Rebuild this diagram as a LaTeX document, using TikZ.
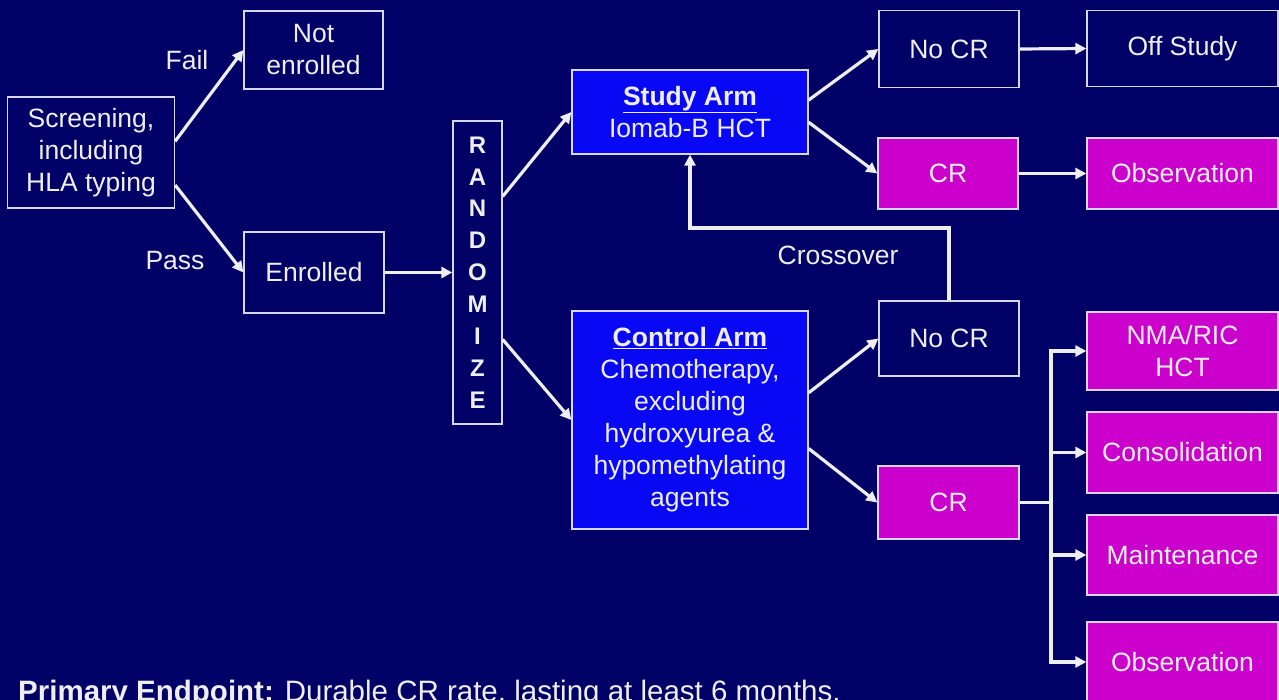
\documentclass[tikz,border=0pt]{standalone}
\usepackage{fontspec}
\setmainfont{Liberation Sans}
\usetikzlibrary{arrows.meta,calc}
\definecolor{bg}{RGB}{0,0,102}
\definecolor{armblue}{RGB}{8,8,245}
\definecolor{mag}{RGB}{204,0,204}
\definecolor{bd}{RGB}{215,215,232}
\definecolor{tx}{RGB}{238,238,238}
\newcommand\myfs{\fontsize{26.5}{32}\selectfont}
\begin{document}
\begin{tikzpicture}[x=1pt,y=-1pt,
  box/.style={draw=bd, line width=1.3pt, text=tx, align=center, inner sep=0pt, font=\myfs},
  dark/.style={box, fill=bg},
  arm/.style={box, fill=armblue},
  mbox/.style={box, fill=mag},
  lbl/.style={text=tx, font=\myfs, inner sep=0pt},
  arr/.style={draw=tx, line width=3.2pt, -{Triangle[length=11pt,width=11pt]}},
  ln/.style={draw=tx, line width=3.2pt}]
\fill[bg] (0,0) rectangle (1279,700);
\useasboundingbox (0,0) rectangle (1279,700);
\clip (0,0) rectangle (1279,700);

% boxes
\node[dark, minimum width=167pt, minimum height=111pt] (scr) at (91,152.5) {Screening,\\including\\HLA typing};
\node[dark, minimum width=139pt, minimum height=78pt] (ne) at (313.5,50) {Not\\enrolled};
\node[dark, minimum width=140pt, minimum height=81pt] (en) at (314,272.5) {Enrolled};
\node[dark, minimum width=49pt, minimum height=303pt, font=\fontsize{24}{31.9}\selectfont\bfseries] (rnd) at (477.5,272.5) {R\\A\\N\\D\\O\\M\\I\\Z\\E};
\node[arm, minimum width=236pt, minimum height=84pt] (st) at (690,112) {\textbf{\underline{Study Arm}}\\Iomab-B HCT};
\node[arm, minimum width=236pt, minimum height=218pt] (ctl) at (690,420) {\textbf{\underline{Control Arm}}\\Chemotherapy,\\excluding\\hydroxyurea \&\\hypomethylating\\agents};
\node[dark, minimum width=140pt, minimum height=77pt] (nc1) at (949,49) {No CR};
\node[dark, minimum width=191pt, minimum height=76pt] (off) at (1182.5,48.5) {Off Study};
\node[mbox, minimum width=140pt, minimum height=71pt] (cr1) at (948,173.5) {CR};
\node[mbox, minimum width=191pt, minimum height=71pt] (obs1) at (1182.5,173.5) {Observation};
\node[dark, minimum width=140pt, minimum height=75pt] (nc2) at (949,338.5) {No CR};
\node[mbox, minimum width=141pt, minimum height=73pt] (cr2) at (948.5,502.5) {CR};
\node[mbox, minimum width=191pt, minimum height=78pt] (nma) at (1182.5,351) {NMA/RIC\\HCT};
\node[mbox, minimum width=191pt, minimum height=81pt] (cons) at (1182.5,452.5) {Consolidation};
\node[mbox, minimum width=191pt, minimum height=80pt] (maint) at (1182.5,555) {Maintenance};
\node[mbox, minimum width=191pt, minimum height=80pt] (obs2) at (1182.5,662) {Observation};

% labels
\node[lbl] (fail) at (187,60) {Fail};
\node[lbl] (pass) at (175,261) {Pass};
\node[lbl] (xlbl) at (838,255) {Crossover};
\node[lbl, anchor=base west, font=\fontsize{29.5}{34}\selectfont] (pe) at (18,701.5) {\textbf{Primary Endpoint:} Durable CR rate, lasting at least 6 months.};

% connectors
\draw[arr] ($(scr.north east)!0.4!(scr.south east)$) -- (ne.west);
\draw[arr] ($(scr.north east)!0.79!(scr.south east)$) -- (en.west);
\draw[arr] (en.east) -- (en.east -| rnd.west);
\draw[arr] ($(rnd.north east)!0.25!(rnd.south east)$) -- (st.west);
\draw[arr] ($(rnd.north east)!0.72!(rnd.south east)$) -- (ctl.west);
\draw[arr] ($(st.north east)!0.36!(st.south east)$) -- (nc1.west);
\draw[arr] ($(st.north east)!0.62!(st.south east)$) -- (cr1.west);
\draw[arr] ($(ctl.north east)!0.376!(ctl.south east)$) -- (nc2.west);
\draw[arr] ($(ctl.north east)!0.63!(ctl.south east)$) -- (cr2.west);
\draw[arr] (nc1.east) -- (off.west);
\draw[arr] (cr1.east) -- (obs1.west);
\coordinate (xo) at (690,228);
\draw[arr] (nc2.north) |- (xo) -- (st.south);
\coordinate (br) at (1051,502.5);
\draw[ln] (cr2.east) -- (br);
\draw[arr] (br) |- (nma.west);
\draw[arr] (br) |- (cons.west);
\draw[arr] (br) |- (maint.west);
\draw[arr] (br) |- (obs2.west);
\end{tikzpicture}
\end{document}
